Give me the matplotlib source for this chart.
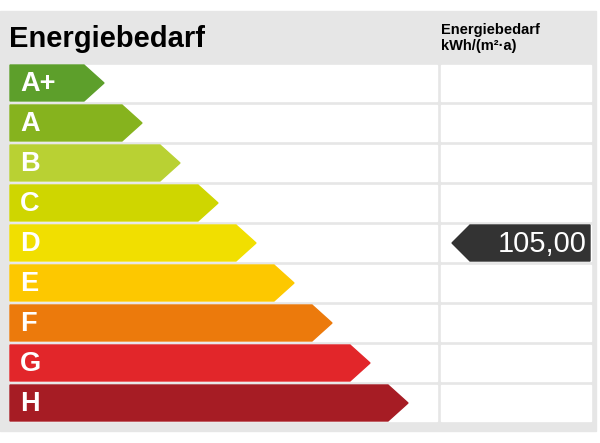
import matplotlib.pyplot as plt
from matplotlib.patches import Polygon, Rectangle

classes = ["A+", "A", "B", "C", "D", "E", "F", "G", "H"]
colors = ["#5d9f2b", "#86b31e", "#b9d133", "#cfd600", "#f1df00",
          "#fdc800", "#ec7a0c", "#e2262a", "#a61c24"]
arrow_ends = [104, 142, 180, 218, 256, 294, 332, 370, 408]
value = 105.00
value_class = "D"

W, H = 600, 443
fig = plt.figure(figsize=(W / 100, H / 100), dpi=100)
ax = fig.add_axes([0, 0, 1, 1])
ax.set_xlim(0, W)
ax.set_ylim(H, 0)
ax.axis("off")

ax.add_patch(Rectangle((0, 11), 596, 420, color="#e6e6e6"))
ax.text(9, 39, "Energiebedarf", fontsize=21, fontweight="bold",
        va="center", ha="left", family="Liberation Sans")
ax.text(441, 38, "Energiebedarf\nkWh/(m²·a)", fontsize=10.5, fontweight="bold",
        va="center", ha="left", family="Liberation Sans", linespacing=1.25)

top0, step, h = 65, 40, 36
for i, (cls, col, xe) in enumerate(zip(classes, colors, arrow_ends)):
    y0 = top0 + i * step
    ax.add_patch(Rectangle((10, y0), 427, h, color="white"))
    ax.add_patch(Rectangle((441, y0), 150, h, color="white"))
    pts = [(10, y0), (xe - 20, y0), (xe, y0 + h / 2), (xe - 20, y0 + h), (10, y0 + h)]
    ax.add_patch(Polygon(pts, closed=True, color=col))
    ax.text(20, y0 + h / 2 + 1, cls, color="white", fontsize=19.5, fontweight="bold",
            va="center", ha="left", family="Liberation Sans")
    if cls == value_class:
        pts = [(452, y0 + h / 2), (470, y0), (590, y0), (590, y0 + h), (470, y0 + h)]
        ax.add_patch(Polygon(pts, closed=True, color="#333333"))
        ax.text(587, y0 + h / 2 + 1, f"{value:.2f}".replace(".", ","), color="white",
                fontsize=21, va="center", ha="right", family="Liberation Sans")

fig.savefig("out.png", dpi=100)
